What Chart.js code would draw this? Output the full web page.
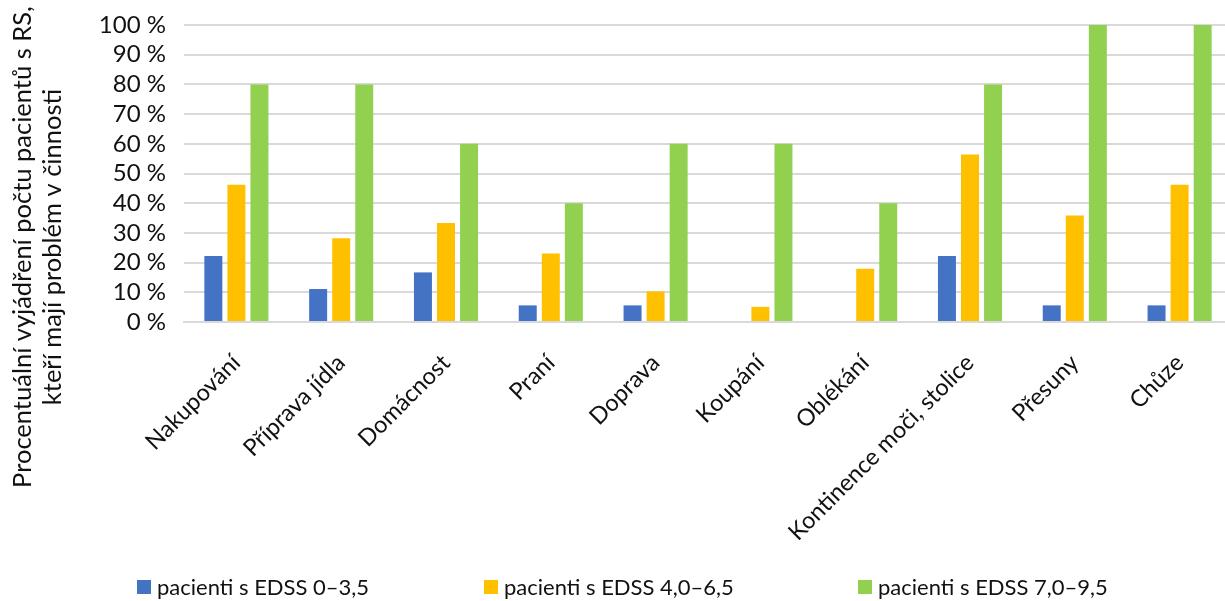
<!DOCTYPE html>
<html>
<head>
<meta charset="utf-8">
<script src="https://cdn.jsdelivr.net/npm/chart.js@4/dist/chart.umd.min.js"></script>
<style>
  html, body { margin: 0; padding: 0; background: #fff; overflow: hidden; }
  #wrap { width: 1235px; height: 601px; }
</style>
</head>
<body>
<div id="wrap"><canvas id="c" width="1235" height="601"></canvas></div>
<script>
// Activities of daily living
const categories = ['Nakupování', 'Příprava jídla', 'Domácnost', 'Praní', 'Doprava',
  'Koupání', 'Oblékání', 'Kontinence moči, stolice', 'Přesuny', 'Chůze'];

// Share of patients (%) with a problem in each activity, by EDSS group
const edssLow = [22.2, 11.1, 16.7, 5.6, 5.6, 0, 0, 22.2, 5.6, 5.6];
const edssMid = [46.2, 28.2, 33.3, 23.1, 10.3, 5.1, 17.9, 56.4, 35.9, 46.2];
const edssHigh = [80, 80, 60, 40, 60, 60, 40, 80, 100, 100];

const seriesNames = ['pacienti s EDSS 0–3,5', 'pacienti s EDSS 4,0–6,5', 'pacienti s EDSS 7,0–9,5'];
const seriesColors = ['#4472C4', '#FFC000', '#92D050'];
const yTicks = [0, 10, 20, 30, 40, 50, 60, 70, 80, 90, 100];
const yTitle = ['Procentuální vyjádření počtu pacientů s RS,', 'kteří mají problém v činnosti'];

const FONT = 'Lato, "Open Sans", sans-serif';
const TEXT = '#111';

// Two-line vertical axis title, centred on the full chart height
const yTitlePlugin = {
  id: 'yTitle',
  afterDraw(chart) {
    const ctx = chart.ctx;
    ctx.save();
    ctx.fillStyle = TEXT;
    ctx.font = '25.5px ' + FONT;
    ctx.textAlign = 'center';
    ctx.textBaseline = 'middle';
    const xs = [23, 53];
    yTitle.forEach((line, i) => {
      ctx.save();
      ctx.translate(xs[i], 247);
      ctx.rotate(-Math.PI / 2);
      ctx.fillText(line, 0, 0);
      ctx.restore();
    });
    ctx.restore();
  }
};

// Legend row along the bottom with wide, evenly spaced entries
const legendRowPlugin = {
  id: 'legendRow',
  afterDraw(chart) {
    const ctx = chart.ctx;
    const starts = [137, 484, 858];
    const y = 587;
    ctx.save();
    ctx.font = '22px ' + FONT;
    ctx.textBaseline = 'middle';
    ctx.textAlign = 'left';
    chart.data.datasets.forEach((ds, i) => {
      ctx.fillStyle = ds.backgroundColor;
      ctx.fillRect(starts[i], y - 7, 14, 14);
      ctx.fillStyle = TEXT;
      ctx.fillText(ds.label, starts[i] + 20, y + 1);
    });
    ctx.restore();
  }
};

new Chart(document.getElementById('c'), {
  type: 'bar',
  data: {
    labels: categories,
    datasets: seriesNames.map((name, i) => ({
      label: name,
      data: [edssLow, edssMid, edssHigh][i],
      backgroundColor: seriesColors[i]
    }))
  },
  options: {
    responsive: false,
    animation: false,
    layout: { padding: { top: 25, right: 3, left: 0, bottom: 50 } },
    datasets: { bar: { categoryPercentage: 0.66, barPercentage: 0.78 } },
    plugins: {
      legend: { display: false },
      tooltip: { enabled: false }
    },
    scales: {
      x: {
        grid: { display: false },
        border: { color: '#D9D9D9', width: 2 },
        ticks: {
          font: { family: FONT, size: 23.5 },
          color: TEXT,
          minRotation: 45,
          maxRotation: 45,
          autoSkip: false,
          padding: 19
        },
        afterFit(scale) { scale.height = 229; }
      },
      y: {
        min: 0,
        max: 100,
        afterBuildTicks(scale) { scale.ticks = yTicks.map(v => ({ value: v })); },
        grid: { color: '#D9D9D9', lineWidth: 2, drawTicks: false },
        border: { display: false },
        ticks: {
          font: { family: FONT, size: 24 },
          color: TEXT,
          padding: 18,
          autoSkip: false,
          callback: v => v + ' %'
        },
        afterFit(scale) {
          scale.width = 184;
          scale.paddingTop = 0;
          scale.paddingBottom = 0;
        }
      }
    }
  },
  plugins: [yTitlePlugin, legendRowPlugin]
});
</script>
</body>
</html>
